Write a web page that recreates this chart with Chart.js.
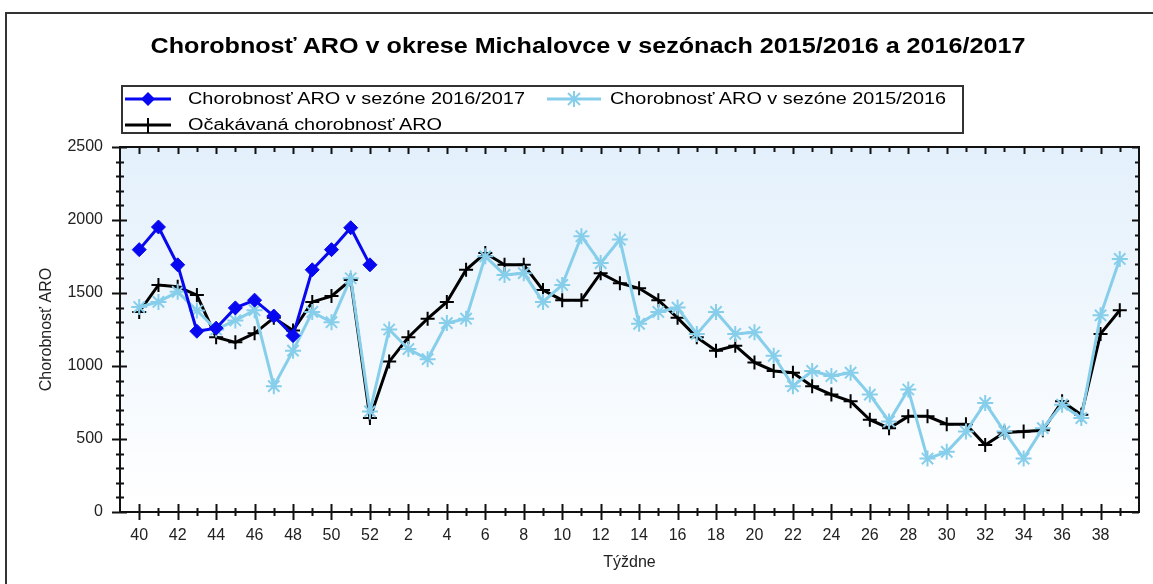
<!DOCTYPE html>
<html>
<head>
<meta charset="utf-8">
<script src="https://cdn.jsdelivr.net/npm/chart.js@4.4.0/dist/chart.umd.min.js"></script>
<style>
  html, body { margin: 0; padding: 0; background: #fff; overflow: hidden; }
  #wrap { position: relative; width: 1153px; height: 584px; overflow: hidden; }
  #frame { position: absolute; left: 5px; top: 12px; width: 1300px; height: 800px; border: 2px solid #333; }
  #chart { position: absolute; left: 0; top: 0; }
  #overlay { position: absolute; left: 0; top: 0; }
</style>
</head>
<body>
<div id="wrap">
  <div id="frame"></div>
  <canvas id="chart" width="1153" height="584"></canvas>
  <svg id="overlay" width="1153" height="584" font-family="Liberation Sans, Arial, sans-serif">
    <text x="588" y="53" text-anchor="middle" font-size="22" font-weight="bold" textLength="875" lengthAdjust="spacingAndGlyphs">Chorobnosť ARO v okrese Michalovce v sezónach 2015/2016 a 2016/2017</text>
    <rect x="122" y="86" width="841" height="47" fill="#fff" stroke="#333" stroke-width="2"></rect>
    <line x1="125" y1="99" x2="171" y2="99" stroke="#0808f0" stroke-width="3"></line>
    <polygon points="148,92 155,99 148,106 141,99" fill="#0808f0"></polygon>
    <text x="188" y="104" font-size="16" textLength="337" lengthAdjust="spacingAndGlyphs">Chorobnosť ARO v sezóne 2016/2017</text>
    <line x1="547" y1="99" x2="601" y2="99" stroke="#87ceeb" stroke-width="3"></line>
    <g stroke="#87ceeb" stroke-width="2">
      <line x1="574" y1="91" x2="574" y2="107"></line>
      <line x1="566" y1="99" x2="582" y2="99"></line>
      <line x1="568" y1="93" x2="580" y2="105"></line>
      <line x1="568" y1="105" x2="580" y2="93"></line>
    </g>
    <text x="610" y="104" font-size="16" textLength="336" lengthAdjust="spacingAndGlyphs">Chorobnosť ARO v sezóne 2015/2016</text>
    <line x1="125" y1="125" x2="171" y2="125" stroke="#000" stroke-width="3"></line>
    <line x1="148" y1="118" x2="148" y2="133" stroke="#000" stroke-width="2"></line>
    <text x="188" y="130" font-size="16" textLength="254" lengthAdjust="spacingAndGlyphs">Očakávaná chorobnosť ARO</text>
  </svg>
</div>
<script>
// tyzdne sezony 40..52, 1..39
const weeks = [40, 41, 42, 43, 44, 45, 46, 47, 48, 49, 50, 51, 52,
  1, 2, 3, 4, 5, 6, 7, 8, 9, 10, 11, 12, 13, 14, 15, 16, 17, 18, 19, 20,
  21, 22, 23, 24, 25, 26, 27, 28, 29, 30, 31, 32, 33, 34, 35, 36, 37, 38, 39];

const sezona1617 = [1797, 1952, 1693, 1238, 1259, 1398, 1451, 1342, 1208, 1659, 1797, 1947, 1693];

const sezona1516 = [1404, 1439, 1508, 1380, 1250, 1312, 1382, 862, 1105, 1370, 1300, 1601, 689,
  1250, 1116, 1047, 1294, 1324, 1751, 1624, 1636, 1439, 1555, 1889, 1705, 1866, 1289, 1370, 1400,
  1220, 1370, 1220, 1231, 1070, 862, 966, 931, 954, 804, 620, 839, 366, 412, 551, 747, 551, 366,
  574, 735, 643, 1347, 1733];

const ocakavana = [1370, 1555, 1543, 1486, 1197, 1162, 1224, 1330, 1243, 1439, 1479, 1589, 643,
  1030, 1197, 1324, 1439, 1659, 1774, 1693, 1693, 1520, 1451, 1451, 1636, 1567, 1532, 1451, 1330,
  1197, 1105, 1139, 1024, 966, 954, 862, 804, 758, 632, 574, 655, 655, 601, 601, 459, 545, 551,
  560, 758, 666, 1220, 1382];

const yTicks = [0, 500, 1000, 1500, 2000, 2500];

// prazdne miesto na zaciatku a konci osi
const labels = [""].concat(weeks.map(String), [""]);
const pad = (arr) => [null].concat(arr, new Array(labels.length - 1 - arr.length).fill(null));

const framePlugin = {
  id: "framePlugin",
  beforeDatasetsDraw(chart) {
    const { ctx, chartArea: a } = chart;
    const g = ctx.createLinearGradient(0, a.top, 0, a.bottom);
    g.addColorStop(0, "#e3f0fb");
    g.addColorStop(1, "#ffffff");
    ctx.save();
    ctx.fillStyle = g;
    ctx.fillRect(a.left, a.top, a.right - a.left, a.bottom - a.top);
    ctx.restore();
  },
  afterDraw(chart) {
    const { ctx, chartArea: a } = chart;
    const x = chart.scales.x;
    const y = chart.scales.y;
    ctx.save();
    ctx.strokeStyle = "#111";
    ctx.lineWidth = 2;
    ctx.strokeRect(a.left, a.top, a.right - a.left, a.bottom - a.top);
    ctx.beginPath();
    for (let v = 0; v <= 2500; v += 100) {
      const py = Math.round(y.getPixelForValue(v)) + 0.5;
      const major = v % 500 === 0;
      ctx.moveTo(a.left - (major ? 8 : 4), py);
      ctx.lineTo(a.left + (major ? 7 : 4), py);
      ctx.moveTo(a.right - (major ? 7 : 4), py);
      ctx.lineTo(a.right, py);
    }
    for (let i = 1; i < labels.length - 1; i++) {
      const px = Math.round(x.getPixelForValue(i)) + 0.5;
      const major = Number(labels[i]) % 2 === 0;
      ctx.moveTo(px, a.bottom - (major ? 8 : 4));
      ctx.lineTo(px, a.bottom + (major ? 8 : 4));
      ctx.moveTo(px, a.top);
      ctx.lineTo(px, a.top + (major ? 7 : 5));
    }
    ctx.stroke();
    ctx.restore();
  },
};

const tickFont = { family: "'Liberation Sans', Arial, sans-serif", size: 16 };

new Chart(document.getElementById("chart"), {
  type: "line",
  data: {
    labels: labels,
    datasets: [
      {
        label: "Chorobnosť ARO v sezóne 2016/2017",
        data: pad(sezona1617),
        borderColor: "#0808f0",
        backgroundColor: "#0808f0",
        borderWidth: 3,
        pointStyle: "rectRot",
        pointRadius: 7,
        pointBorderWidth: 1,
        order: 0,
      },
      {
        label: "Chorobnosť ARO v sezóne 2015/2016",
        data: pad(sezona1516),
        borderColor: "#87ceeb",
        backgroundColor: "#87ceeb",
        borderWidth: 3,
        pointStyle: "star",
        pointRadius: 8,
        pointBorderWidth: 2,
        order: 1,
      },
      {
        label: "Očakávaná chorobnosť ARO",
        data: pad(ocakavana),
        borderColor: "#000",
        backgroundColor: "#000",
        borderWidth: 3,
        pointStyle: "cross",
        pointRadius: 7,
        pointBorderWidth: 2,
        order: 2,
      },
    ],
  },
  options: {
    responsive: false,
    animation: false,
    layout: { padding: { left: 30, right: 14, top: 147, bottom: 8 } },
    plugins: { legend: { display: false }, title: { display: false }, tooltip: { enabled: false } },
    scales: {
      x: {
        offset: false,
        grid: { display: false, drawTicks: false },
        border: { display: false },
        ticks: {
          autoSkip: false,
          maxRotation: 0,
          padding: 14,
          color: "#222",
          font: tickFont,
          callback: function (value) {
            const l = this.getLabelForValue(value);
            return l !== "" && Number(l) % 2 === 0 ? l : "";
          },
        },
        title: { display: true, text: "Týždne", color: "#222", font: tickFont, padding: { top: 4, bottom: 4 } },
        afterFit(scale) { scale.height = 584 - 512 - 8; },
      },
      y: {
        min: 0,
        max: 2500,
        afterBuildTicks(scale) { scale.ticks = yTicks.map((v) => ({ value: v })); },
        grid: { display: false, drawTicks: false },
        border: { display: false },
        ticks: { padding: 17, color: "#222", font: tickFont, callback: (v) => String(v) },
        title: { display: true, text: "Chorobnosť ARO", color: "#222", font: tickFont, padding: { top: 7, bottom: 0 } },
        afterFit(scale) { scale.width = 120 - 30; },
      },
    },
  },
  plugins: [framePlugin],
});
</script>
</body>
</html>
